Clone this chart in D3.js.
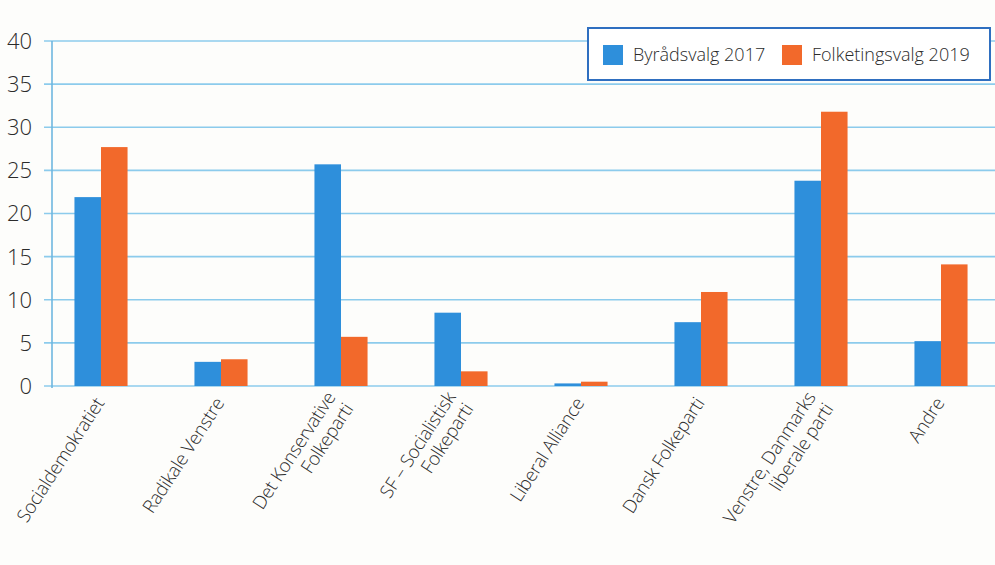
<!DOCTYPE html>
<html>
<head>
  <meta charset="utf-8">
  <title>Byrådsvalg 2017 / Folketingsvalg 2019</title>
  <script src="https://d3js.org/d3.v7.min.js"></script>
  <style>
    body { margin: 0; overflow: hidden; background: #fdfdfb; }
    text { font-family: "Open Sans", "Noto Sans", sans-serif; fill: #2b2b2b; }
  </style>
</head>
<body>
<svg width="995" height="565"></svg>
<script>
// --- Data ---
const partier = [
  ["Socialdemokratiet"],
  ["Radikale Venstre"],
  ["Det Konservative", "Folkeparti"],
  ["SF – Socialistisk", "Folkeparti"],
  ["Liberal Alliance"],
  ["Dansk Folkeparti"],
  ["Venstre, Danmarks", "liberale parti"],
  ["Andre"]
];
const serier = ["Byrådsvalg 2017", "Folketingsvalg 2019"];
const byraad2017 = [21.9, 2.8, 25.7, 8.5, 0.3, 7.4, 23.8, 5.2];
const folketing2019 = [27.7, 3.1, 5.7, 1.7, 0.5, 10.9, 31.8, 14.1];
const yTicks = [0, 5, 10, 15, 20, 25, 30, 35, 40];
const farver = ["#2e8fdb", "#f2692b"];

const svg = d3.select("svg");
const keys = partier.map(p => p.join(" "));
const rows = keys.map((k, i) => ({ key: k, lines: partier[i], values: [byraad2017[i], folketing2019[i]] }));

// skalaer
const x0 = d3.scaleBand().domain(keys).range([41, 1001]);
const x1 = d3.scaleBand().domain(serier).range([0, x0.bandwidth()]).paddingOuter(1.26);
const y = d3.scaleLinear().domain([0, 40]).range([386, 41]);

// gitterlinjer
svg.append("g").selectAll("line").data(yTicks).join("line")
  .attr("x1", 44).attr("x2", 995)
  .attr("y1", d => y(d)).attr("y2", d => y(d))
  .attr("stroke", "#8ccbec").attr("stroke-width", 1.6);

// y-akse
svg.append("line").attr("x1", 52).attr("x2", 52).attr("y1", y(40)).attr("y2", y(0) + 2)
  .attr("stroke", "#6fb7e0").attr("stroke-width", 1.6);
svg.append("g").selectAll("text").data(yTicks).join("text")
  .attr("x", 32).attr("y", d => y(d)).attr("dy", "0.36em")
  .attr("text-anchor", "end").attr("font-size", 22).attr("font-weight", 300)
  .text(d => d);

// søjler
const grp = svg.append("g").selectAll("g").data(rows).join("g")
  .attr("transform", d => `translate(${x0(d.key)},0)`);
grp.selectAll("rect").data(d => d.values.map((v, i) => ({ s: serier[i], v, i }))).join("rect")
  .attr("x", d => x1(d.s)).attr("width", x1.bandwidth())
  .attr("y", d => y(d.v)).attr("height", d => y(0) - y(d.v))
  .attr("fill", d => farver[d.i]);

// kategorietiketter
const lh = 21;
svg.append("g").selectAll("text").data(rows).join("text")
  .attr("transform", d => `translate(${x0(d.key) + x0.bandwidth() / 2 + 4},403) rotate(-57)`)
  .attr("text-anchor", "end").attr("font-size", 18.5).attr("font-weight", 300)
  .attr("letter-spacing", -0.3)
  .each(function(d) {
    const t = d3.select(this);
    d.lines.forEach((l, i) => {
      t.append("tspan").attr("x", 0)
        .attr("y", (i - (d.lines.length - 1) / 2) * lh)
        .text(l);
    });
  });

// forklaring
const lg = svg.append("g");
lg.append("rect").attr("x", 588).attr("y", 28).attr("width", 402).attr("height", 52)
  .attr("fill", "#fff").attr("stroke", "#2f6fc0").attr("stroke-width", 2);
const lx = [603, 782];
serier.forEach((s, i) => {
  lg.append("rect").attr("x", lx[i]).attr("y", 45).attr("width", 20).attr("height", 20).attr("fill", farver[i]);
  lg.append("text").attr("x", lx[i] + 30).attr("y", 55).attr("dy", "0.36em")
    .attr("font-size", 18).attr("font-weight", 300).text(s);
});
</script>
</body>
</html>
